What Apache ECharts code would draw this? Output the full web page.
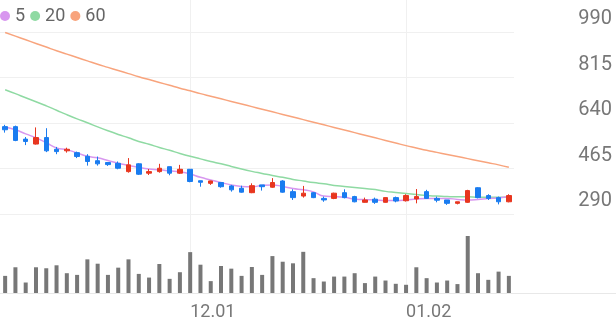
<!DOCTYPE html>
<html>
<head>
<meta charset="utf-8">
<script src="https://cdn.jsdelivr.net/npm/echarts@6/dist/echarts.min.js"></script>
<style>
html,body{margin:0;padding:0;background:#fff;}
#chart{width:616px;height:321px;}
</style>
</head>
<body>
<div id="chart"></div>
<script>
const dates = ['11.05','11.06','11.07','11.10','11.11','11.12','11.13','11.14','11.17','11.18',
  '11.19','11.20','11.21','11.24','11.25','11.26','11.27','11.28','12.01','12.02',
  '12.03','12.04','12.05','12.08','12.09','12.10','12.11','12.12','12.15','12.16',
  '12.17','12.18','12.19','12.22','12.23','12.24','12.26','12.29','12.30','01.02',
  '01.05','01.06','01.07','01.08','01.09','01.12','01.13','01.14','01.15','01.16'];
const opens  = [626,626,578,559,584,539,533,526,512,495,488,485,453,483,447,453,472,447,462,418,
  408,411,398,389,372,402,393,417,376,359,372,350,350,372,357,335,347,335,353,341,
  348,376,350,344,331,335,391,361,353,337];
const closes = [614,573,569,584,533,530,539,511,492,483,480,466,479,443,453,466,447,462,415,412,
  417,395,383,374,399,395,411,374,353,370,353,344,370,353,337,344,335,353,340,361,
  357,350,343,331,337,380,353,350,337,361];
const lows   = [603,570,555,557,528,520,526,505,476,476,475,462,449,440,440,449,439,444,412,395,
  402,391,376,372,370,380,391,372,344,353,351,337,347,350,335,334,329,334,335,338,
  331,348,335,325,327,333,350,344,327,335];
const highs  = [633,630,586,623,620,548,545,530,520,511,490,492,505,485,463,483,472,479,463,418,
  418,412,402,399,408,402,428,420,385,398,374,357,372,385,360,353,353,353,357,366,
  386,383,357,344,337,383,393,366,357,366];
const ma5  = [625,614,598,583,564,544,537,525,512,506,496,485,477,469,463,460,456,452,444,431,
  421,411,402,396,395,400,402,396,388,383,375,359,357,354,348,345,344,342,342,344,
  348,350,350,350,346,344,346,350,352,357];
const ma20 = [768,753,737,722,706,689,672,656,641,625,610,596,583,569,558,546,535,523,512,502,
  492,483,473,463,454,446,438,431,423,417,411,406,400,396,392,388,384,377,373,369,
  365,361,359,357,356,356,354,354,354,354];
const ma60 = [988,974,960,946,932,918,905,892,879,866,854,842,830,818,807,796,785,774,764,753,
  743,733,723,713,703,693,683,673,663,653,643,633,623,613,603,593,583,573,563,553,
  544,535,527,519,511,503,495,487,479,470];
const volumes = [173,260,106,260,250,280,200,183,340,296,183,256,340,193,156,293,143,210,413,286,
  120,273,246,173,263,183,373,316,300,416,150,116,166,166,200,100,166,126,93,83,
  260,150,106,126,90,576,200,133,216,173];
const yTicks = {min:290, max:990, interval:175};
const monthStarts = ['12.01','01.02'];

const UP = '#e8361f', DOWN = '#1a7cf0';
const FONT = 'Roboto';

const candleData = dates.map((d,i)=>[opens[i], closes[i], lows[i], highs[i]]);

const chart = echarts.init(document.getElementById('chart'), null, {renderer:'canvas'});
chart.setOption({
  animation:false,
  textStyle:{fontFamily:FONT},
  legend:{
    left:0, top:7, padding:0, data:['5','20','60'], icon:'circle', itemWidth:10, itemHeight:10, itemGap:5,
    textStyle:{fontSize:18, color:'#666', fontFamily:FONT}
  },
  grid:[
    {left:0, width:514, top:32, height:182},
    {left:0, width:514, top:236, height:57},
    {left:0, width:514, top:0, height:293},
    {left:0, right:0, top:214, height:79}
  ],
  xAxis:[
    {type:'category', gridIndex:0, data:dates, boundaryGap:true, axisLine:{show:false}, axisTick:{show:false}, axisLabel:{show:false}, splitLine:{show:false}},
    {type:'category', gridIndex:1, data:dates, boundaryGap:true, axisLine:{show:false}, axisTick:{show:false},
      axisLabel:{show:true, interval:(idx,val)=>monthStarts.indexOf(val)>=0, align:'left', margin:10, fontSize:18, color:'#777', fontFamily:FONT},
      splitLine:{show:false}},
    {type:'category', gridIndex:2, data:dates, boundaryGap:true, show:false},
    {type:'value', gridIndex:3, position:'top', axisLine:{show:true, lineStyle:{color:'#e8e8e8'}}, axisTick:{show:false}, axisLabel:{show:false}, splitLine:{show:false}},
    {type:'value', gridIndex:3, position:'bottom', axisLine:{show:true, lineStyle:{color:'#e8e8e8'}}, axisTick:{show:false}, axisLabel:{show:false}, splitLine:{show:false}}
  ],
  yAxis:[
    {type:'value', gridIndex:0, position:'right', min:yTicks.min, max:yTicks.max, interval:yTicks.interval,
      axisLine:{show:false}, axisTick:{show:false},
      axisLabel:{margin:98, align:'right', verticalAlign:'bottom', padding:[0,0,3,0], fontSize:20, color:'#777', fontFamily:FONT},
      splitLine:{show:true, lineStyle:{color:'#f0f0f0', width:1}}},
    {type:'value', gridIndex:1, min:0, max:'dataMax', show:false},
    {type:'value', gridIndex:2, min:0, max:1, show:false},
    {type:'value', gridIndex:3, show:false}
  ],
  series:[
    {type:'line', xAxisIndex:2, yAxisIndex:2, data:[], silent:true, z:0, zlevel:0,
      markLine:{silent:true, z:0, symbol:'none', label:{show:false}, lineStyle:{color:'#f0f0f0', type:'solid', width:1},
        data: monthStarts.map(m=>({xAxis:m}))}},
    {name:'60', type:'line', xAxisIndex:0, yAxisIndex:0, data:ma60, showSymbol:false, symbol:'none', smooth:true,
      lineStyle:{color:'#f8a47d', width:1.5}, itemStyle:{color:'#f8a47d'}},
    {name:'20', type:'line', xAxisIndex:0, yAxisIndex:0, data:ma20, showSymbol:false, symbol:'none', smooth:true,
      lineStyle:{color:'#8fdaa3', width:1.5}, itemStyle:{color:'#8fdaa3'}},
    {name:'5', type:'line', xAxisIndex:0, yAxisIndex:0, data:ma5, showSymbol:false, symbol:'none', smooth:true,
      lineStyle:{color:'#d897ef', width:1.5}, itemStyle:{color:'#d897ef'}},
    {type:'candlestick', xAxisIndex:0, yAxisIndex:0, data:candleData, barWidth:5, z:3,
      itemStyle:{color:UP, color0:DOWN, borderColor:UP, borderColor0:DOWN, borderWidth:1}},
    {type:'bar', xAxisIndex:1, yAxisIndex:1, data:volumes, barWidth:4, z:3, itemStyle:{color:'#777'}}
  ]
});
</script>
</body>
</html>
